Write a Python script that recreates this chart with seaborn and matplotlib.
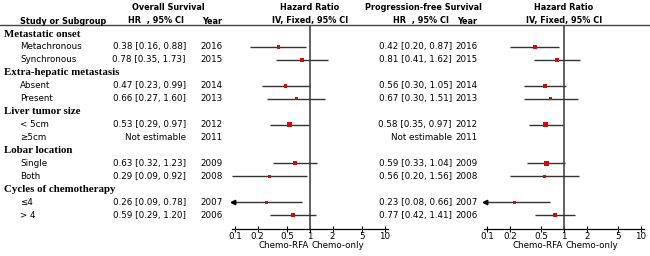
import numpy as np
import pandas as pd
import matplotlib
matplotlib.use("Agg")
import matplotlib.pyplot as plt
import matplotlib.transforms as mtransforms
import seaborn as sns

# ---------------- data ----------------
groups = ["Metastatic onset", "Extra-hepatic metastasis", "Liver tumor size",
          "Lobar location", "Cycles of chemotherapy"]
group_sizes = [2, 2, 2, 2, 2]
subgroups = ["Metachronous", "Synchronous", "Absent", "Present", "< 5cm", "≥5cm",
             "Single", "Both", "≤4", "> 4"]
years = [2016, 2015, 2014, 2013, 2012, 2011, 2009, 2008, 2007, 2006]

os_hr = [0.38, 0.78, 0.47, 0.66, 0.53, np.nan, 0.63, 0.29, 0.26, 0.59]
os_lo = [0.16, 0.35, 0.23, 0.27, 0.29, np.nan, 0.32, 0.09, 0.09, 0.29]
os_hi = [0.88, 1.73, 0.99, 1.60, 0.97, np.nan, 1.23, 0.92, 0.78, 1.20]
os_weight = [7, 8, 9, 7, 16, 0, 12, 5, 5, 9]
os_arrow = [False, False, False, False, False, False, False, False, True, False]

pfs_hr = [0.42, 0.81, 0.56, 0.67, 0.58, np.nan, 0.59, 0.56, 0.23, 0.77]
pfs_lo = [0.20, 0.41, 0.30, 0.30, 0.35, np.nan, 0.33, 0.20, 0.08, 0.42]
pfs_hi = [0.87, 1.62, 1.05, 1.51, 0.97, np.nan, 1.04, 1.56, 0.66, 1.41]
pfs_weight = [8, 8, 10, 7, 14, 0, 14, 5, 5, 11]
pfs_arrow = [False, False, False, False, False, False, False, False, True, False]

xticks = [0.1, 0.2, 0.5, 1, 2, 5, 10]
xtick_labels = ["0.1", "0.2", "0.5", "1", "2", "5", "10"]

# ---------------- layout helpers ----------------
W, H = 650, 256
sns.set_style("white")
plt.rcParams["font.family"] = ["DejaVu Sans"]
plt.rcParams["text.color"] = "black"
plt.rcParams["xtick.color"] = "black"
plt.rcParams["xtick.labelcolor"] = "black"
fig = plt.figure(figsize=(W / 100, H / 100), dpi=100)

RED = "#d10a0a"
LINE = "#333333"
SANS = "DejaVu Sans"
SERIF = "Liberation Serif"
FS = 6.3

# row indices: group header then items
group_rows, item_rows = [], []
r = 0
for g, n in zip(groups, group_sizes):
    group_rows.append(r)
    r += 1
    for _ in range(n):
        item_rows.append(r)
        r += 1
nrows = r

def fx(x):
    return x / W

def fy(y):
    return 1 - y / H

top_px, bot_px = 25, 229
ylim = (nrows - 1 + 1.08, -0.7)
ax_h = (bot_px - top_px) / H
ax1 = fig.add_axes([fx(232), fy(bot_px), 156 / W, ax_h])
ax2 = fig.add_axes([fx(484), fy(bot_px), 160 / W, ax_h])

def forest(ax, hr, lo, hi, weight, arrow):
    ax.set_xscale("log")
    xmin, xmax = 0.091, 11
    df = pd.DataFrame({"hr": hr, "lo": lo, "hi": hi, "w": weight,
                       "row": item_rows, "arrow": arrow}).dropna()
    for _, d in df.iterrows():
        ax.plot([max(d.lo, xmin), min(d.hi, xmax)], [d.row, d.row],
                color=LINE, lw=1.0, zorder=2, solid_capstyle="butt")
        if d.arrow:
            ax.plot([xmin * 1.03], [d.row], marker="<", color="black",
                    markersize=3.2, zorder=3, clip_on=False)
    sns.scatterplot(data=df, x="hr", y="row", size="w", sizes=(4.5, 12),
                    marker="s", color=RED, edgecolor="none", legend=False,
                    ax=ax, zorder=4)
    ax.axvline(1, color="#555555", lw=1.3, zorder=1)
    ax.set_xlim(xmin, xmax)
    ax.set_ylim(*ylim)
    ax.set_xticks(xticks)
    ax.set_xticklabels(xtick_labels, fontsize=FS)
    ax.xaxis.set_minor_locator(matplotlib.ticker.NullLocator())
    ax.tick_params(axis="x", direction="inout", length=4, width=0.8, pad=0.5,
                   bottom=True, colors="black")
    ax.set_yticks([])
    ax.set_xlabel("")
    ax.set_ylabel("")
    for s in ["top", "right", "left"]:
        ax.spines[s].set_visible(False)
    ax.spines["bottom"].set_color("black")
    ax.spines["bottom"].set_linewidth(0.9)
    ax.patch.set_alpha(0)
    tr = mtransforms.blended_transform_factory(ax.transData, fig.transFigure)
    ax.text(0.96, fy(245), "Chemo-RFA", transform=tr, ha="right", va="center",
            fontsize=FS, family=SANS)
    ax.text(1.04, fy(245), "Chemo-only", transform=tr, ha="left", va="center",
            fontsize=FS, family=SANS)

forest(ax1, os_hr, os_lo, os_hi, os_weight, os_arrow)
forest(ax2, pfs_hr, pfs_lo, pfs_hi, pfs_weight, pfs_arrow)

# header rule
fig.add_artist(plt.Line2D([0, 1], [fy(25), fy(25)], transform=fig.transFigure,
                          color="#444444", lw=1.0))

# headers
hk = dict(fontsize=5.9, family=SANS, fontweight="bold", va="center")
fig.text(fx(20), fy(21), "Study or Subgroup", ha="left", **hk)
fig.text(fx(168), fy(7), "Overall Survival", ha="center", **hk)
fig.text(fx(184), fy(21), "HR  , 95% CI", ha="right", **hk)
fig.text(fx(202), fy(21), "Year", ha="left", **hk)
fig.text(fx(310), fy(7), "Hazard Ratio", ha="center", **hk)
fig.text(fx(310), fy(21), "IV, Fixed, 95% CI", ha="center", **hk)
fig.text(fx(423), fy(7), "Progression-free Survival", ha="center", **hk)
fig.text(fx(449), fy(21), "HR  , 95% CI", ha="right", **hk)
fig.text(fx(457), fy(21), "Year", ha="left", **hk)
fig.text(fx(564), fy(7), "Hazard Ratio", ha="center", **hk)
fig.text(fx(564), fy(21), "IV, Fixed, 95% CI", ha="center", **hk)

# row texts
rt = mtransforms.blended_transform_factory(fig.transFigure, ax1.transData)
for g, rr in zip(groups, group_rows):
    fig.text(fx(4), rr, g, transform=rt, ha="left", va="center",
             fontsize=7.8, family=SERIF, fontweight="bold")

def fmt(h, l, u):
    if np.isnan(h):
        return "Not estimable"
    return f"{h:.2f} [{l:.2f}, {u:.2f}]"

for i, rr in enumerate(item_rows):
    fig.text(fx(20), rr, subgroups[i], transform=rt, ha="left", va="center",
             fontsize=FS, family=SANS)
    fig.text(fx(186), rr, fmt(os_hr[i], os_lo[i], os_hi[i]), transform=rt,
             ha="right", va="center", fontsize=FS, family=SANS)
    fig.text(fx(200), rr, str(years[i]), transform=rt, ha="left", va="center",
             fontsize=FS, family=SANS)
    fig.text(fx(452), rr, fmt(pfs_hr[i], pfs_lo[i], pfs_hi[i]), transform=rt,
             ha="right", va="center", fontsize=FS, family=SANS)
    fig.text(fx(455), rr, str(years[i]), transform=rt, ha="left", va="center",
             fontsize=FS, family=SANS)

fig.savefig("out.png", dpi=100)
